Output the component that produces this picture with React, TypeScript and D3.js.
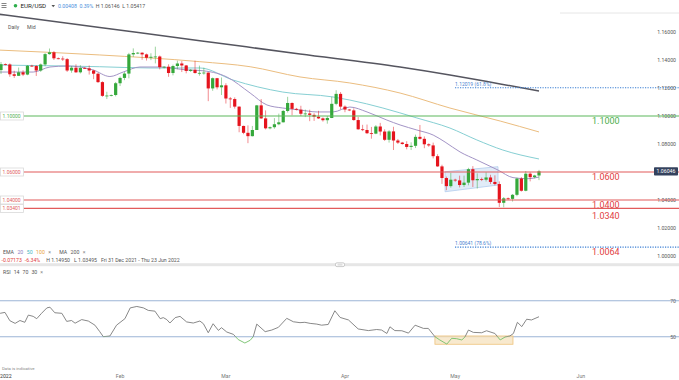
import React from 'react';
import * as d3 from 'd3';

// ---------- DATA ----------
// Daily candles (Sun–Fri sessions), [date, open, high, low, close]
const candles: [string, number, number, number, number][] = [
  ['2021-12-31', 1.1328, 1.1386, 1.1300, 1.1370],
  ['2022-01-02', 1.1370, 1.1376, 1.1362, 1.1368],
  ['2022-01-03', 1.1368, 1.1376, 1.1280, 1.1298],
  ['2022-01-04', 1.1298, 1.1323, 1.1272, 1.1287],
  ['2022-01-05', 1.1287, 1.1346, 1.1286, 1.1312],
  ['2022-01-06', 1.1312, 1.1327, 1.1285, 1.1296],
  ['2022-01-07', 1.1296, 1.1364, 1.1291, 1.1359],
  ['2022-01-09', 1.1359, 1.1366, 1.1352, 1.1357],
  ['2022-01-10', 1.1357, 1.1363, 1.1286, 1.1325],
  ['2022-01-11', 1.1325, 1.1375, 1.1315, 1.1368],
  ['2022-01-12', 1.1368, 1.1449, 1.1356, 1.1442],
  ['2022-01-13', 1.1442, 1.1482, 1.1438, 1.1455],
  ['2022-01-14', 1.1455, 1.1464, 1.1400, 1.1412],
  ['2022-01-16', 1.1412, 1.1418, 1.1405, 1.1410],
  ['2022-01-17', 1.1410, 1.1427, 1.1393, 1.1406],
  ['2022-01-18', 1.1406, 1.1414, 1.1315, 1.1325],
  ['2022-01-19', 1.1325, 1.1357, 1.1309, 1.1345],
  ['2022-01-20', 1.1345, 1.1369, 1.1308, 1.1312],
  ['2022-01-21', 1.1312, 1.1363, 1.1304, 1.1343],
  ['2022-01-23', 1.1343, 1.1350, 1.1336, 1.1340],
  ['2022-01-24', 1.1340, 1.1361, 1.1296, 1.1325],
  ['2022-01-25', 1.1325, 1.1330, 1.1263, 1.1302],
  ['2022-01-26', 1.1302, 1.1310, 1.1236, 1.1242],
  ['2022-01-27', 1.1242, 1.1248, 1.1137, 1.1144],
  ['2022-01-28', 1.1144, 1.1173, 1.1121, 1.1146],
  ['2022-01-30', 1.1146, 1.1154, 1.1140, 1.1150],
  ['2022-01-31', 1.1150, 1.1243, 1.1140, 1.1234],
  ['2022-02-01', 1.1234, 1.1282, 1.1214, 1.1272],
  ['2022-02-02', 1.1272, 1.1314, 1.1256, 1.1303],
  ['2022-02-03', 1.1303, 1.1451, 1.1269, 1.1440],
  ['2022-02-04', 1.1440, 1.1483, 1.1422, 1.1450],
  ['2022-02-06', 1.1450, 1.1457, 1.1442, 1.1452],
  ['2022-02-07', 1.1452, 1.1455, 1.1402, 1.1440],
  ['2022-02-08', 1.1440, 1.1446, 1.1396, 1.1416],
  ['2022-02-09', 1.1416, 1.1448, 1.1399, 1.1423],
  ['2022-02-10', 1.1423, 1.1495, 1.1376, 1.1425],
  ['2022-02-11', 1.1425, 1.1432, 1.1333, 1.1349],
  ['2022-02-13', 1.1349, 1.1356, 1.1340, 1.1352],
  ['2022-02-14', 1.1352, 1.1369, 1.1280, 1.1307],
  ['2022-02-15', 1.1307, 1.1367, 1.1290, 1.1357],
  ['2022-02-16', 1.1357, 1.1395, 1.1334, 1.1375],
  ['2022-02-17', 1.1375, 1.1392, 1.1314, 1.1361],
  ['2022-02-18', 1.1361, 1.1364, 1.1305, 1.1322],
  ['2022-02-20', 1.1322, 1.1335, 1.1315, 1.1330],
  ['2022-02-21', 1.1330, 1.1395, 1.1303, 1.1307],
  ['2022-02-22', 1.1307, 1.1360, 1.1288, 1.1308],
  ['2022-02-23', 1.1308, 1.1345, 1.1295, 1.1310],
  ['2022-02-24', 1.1310, 1.1312, 1.1106, 1.1197],
  ['2022-02-25', 1.1197, 1.1275, 1.1180, 1.1270],
  ['2022-02-27', 1.1270, 1.1272, 1.1190, 1.1205],
  ['2022-02-28', 1.1205, 1.1275, 1.1150, 1.1219],
  ['2022-03-01', 1.1219, 1.1234, 1.1089, 1.1125],
  ['2022-03-02', 1.1125, 1.1136, 1.1058, 1.1121],
  ['2022-03-03', 1.1121, 1.1133, 1.1053, 1.1067],
  ['2022-03-04', 1.1067, 1.1068, 1.0884, 1.0929],
  ['2022-03-06', 1.0929, 1.0931, 1.0870, 1.0880],
  ['2022-03-07', 1.0880, 1.0933, 1.0806, 1.0856],
  ['2022-03-08', 1.0856, 1.0929, 1.0854, 1.0900],
  ['2022-03-09', 1.0900, 1.1079, 1.0900, 1.1076],
  ['2022-03-10', 1.1076, 1.1121, 1.0979, 1.0983],
  ['2022-03-11', 1.0983, 1.1040, 1.0904, 1.0912],
  ['2022-03-13', 1.0912, 1.0925, 1.0905, 1.0920],
  ['2022-03-14', 1.0920, 1.0985, 1.0909, 1.0941],
  ['2022-03-15', 1.0941, 1.1017, 1.0934, 1.0955],
  ['2022-03-16', 1.0955, 1.1043, 1.0954, 1.1036],
  ['2022-03-17', 1.1036, 1.1137, 1.1025, 1.1093],
  ['2022-03-18', 1.1093, 1.1097, 1.1005, 1.1051],
  ['2022-03-20', 1.1051, 1.1058, 1.1040, 1.1045],
  ['2022-03-21', 1.1045, 1.1073, 1.1000, 1.1016],
  ['2022-03-22', 1.1016, 1.1046, 1.0992, 1.1018],
  ['2022-03-23', 1.1018, 1.1045, 1.0963, 1.1008],
  ['2022-03-24', 1.1008, 1.1020, 1.0965, 1.0995],
  ['2022-03-25', 1.0995, 1.1037, 1.0979, 1.0983],
  ['2022-03-27', 1.0983, 1.0990, 1.0960, 1.0970],
  ['2022-03-28', 1.0970, 1.1000, 1.0945, 1.0986],
  ['2022-03-29', 1.0986, 1.1137, 1.0985, 1.1087],
  ['2022-03-30', 1.1087, 1.1184, 1.1077, 1.1158],
  ['2022-03-31', 1.1158, 1.1171, 1.1048, 1.1067],
  ['2022-04-01', 1.1067, 1.1076, 1.1027, 1.1046],
  ['2022-04-03', 1.1046, 1.1050, 1.1035, 1.1040],
  ['2022-04-04', 1.1040, 1.1055, 1.0966, 1.0971],
  ['2022-04-05', 1.0971, 1.0993, 1.0902, 1.0905],
  ['2022-04-06', 1.0905, 1.0937, 1.0892, 1.0900],
  ['2022-04-07', 1.0900, 1.0939, 1.0871, 1.0877],
  ['2022-04-08', 1.0877, 1.0922, 1.0838, 1.0874],
  ['2022-04-10', 1.0874, 1.0935, 1.0870, 1.0925],
  ['2022-04-11', 1.0925, 1.0951, 1.0861, 1.0889],
  ['2022-04-12', 1.0889, 1.0905, 1.0822, 1.0830],
  ['2022-04-13', 1.0830, 1.0899, 1.0810, 1.0890],
  ['2022-04-14', 1.0890, 1.0923, 1.0757, 1.0825],
  ['2022-04-15', 1.0825, 1.0836, 1.0800, 1.0810],
  ['2022-04-17', 1.0810, 1.0815, 1.0795, 1.0800],
  ['2022-04-18', 1.0800, 1.0820, 1.0762, 1.0779],
  ['2022-04-19', 1.0779, 1.0812, 1.0757, 1.0787],
  ['2022-04-20', 1.0787, 1.0867, 1.0771, 1.0851],
  ['2022-04-21', 1.0851, 1.0936, 1.0831, 1.0837],
  ['2022-04-22', 1.0837, 1.0854, 1.0770, 1.0798],
  ['2022-04-24', 1.0798, 1.0805, 1.0780, 1.0790],
  ['2022-04-25', 1.0790, 1.0810, 1.0697, 1.0713],
  ['2022-04-26', 1.0713, 1.0727, 1.0637, 1.0640],
  ['2022-04-27', 1.0640, 1.0652, 1.0515, 1.0557],
  ['2022-04-28', 1.0557, 1.0567, 1.0470, 1.0499],
  ['2022-04-29', 1.0499, 1.0594, 1.0488, 1.0545],
  ['2022-05-01', 1.0545, 1.0552, 1.0530, 1.0540],
  ['2022-05-02', 1.0540, 1.0574, 1.0490, 1.0507],
  ['2022-05-03', 1.0507, 1.0574, 1.0493, 1.0524],
  ['2022-05-04', 1.0524, 1.0630, 1.0505, 1.0620],
  ['2022-05-05', 1.0620, 1.0642, 1.0493, 1.0541],
  ['2022-05-06', 1.0541, 1.0590, 1.0482, 1.0550],
  ['2022-05-08', 1.0550, 1.0560, 1.0535, 1.0545],
  ['2022-05-09', 1.0545, 1.0598, 1.0532, 1.0561],
  ['2022-05-10', 1.0561, 1.0580, 1.0514, 1.0529],
  ['2022-05-11', 1.0529, 1.0576, 1.0505, 1.0514],
  ['2022-05-12', 1.0514, 1.0533, 1.0350, 1.0380],
  ['2022-05-13', 1.0380, 1.0421, 1.0348, 1.0412],
  ['2022-05-15', 1.0412, 1.0418, 1.0400, 1.0408],
  ['2022-05-16', 1.0408, 1.0443, 1.0389, 1.0437],
  ['2022-05-17', 1.0437, 1.0559, 1.0427, 1.0553],
  ['2022-05-18', 1.0553, 1.0564, 1.0460, 1.0466],
  ['2022-05-19', 1.0466, 1.0607, 1.0462, 1.0588],
  ['2022-05-20', 1.0588, 1.0598, 1.0533, 1.0563],
  ['2022-05-22', 1.0563, 1.0580, 1.0555, 1.0575],
  ['2022-05-23', 1.0575, 1.0615, 1.0542, 1.0605],
];

// Moving averages: [session index, price]
const ema20: [number, number][] = [
  [-0.5, 1.1314], [7.3, 1.1314], [11.1, 1.1350], [15, 1.1357], [20.9, 1.1329], [24.7, 1.1282],
  [27.7, 1.1314], [31.5, 1.1350], [36.1, 1.1350], [42.2, 1.1329], [45.1, 1.1325], [51.2, 1.1279],
  [56.5, 1.1164], [60.3, 1.1079], [63.9, 1.1057], [67.8, 1.1043], [71.7, 1.1029], [75.3, 1.1029],
  [79.1, 1.1064], [83, 1.1029], [87.5, 1.0971], [90.5, 1.0936], [94.3, 1.0900], [98, 1.0864],
  [100.7, 1.0814], [104.1, 1.0743], [107.9, 1.0686], [112.7, 1.0614], [116.1, 1.0560],
  [119.3, 1.0552], [122, 1.0564],
];
const ema50: [number, number][] = [
  [-0.5, 1.1364], [15, 1.1357], [22.4, 1.1352], [33.8, 1.1343], [45.1, 1.1343], [52.6, 1.1257],
  [63.9, 1.1171], [75.3, 1.1136], [79.1, 1.1114], [86.6, 1.1057], [94.3, 1.0986], [101.8, 1.0914],
  [107.9, 1.0829], [113.8, 1.0757], [122, 1.0693],
];
const ema100: [number, number][] = [
  [-0.5, 1.1471], [22.4, 1.1436], [45.1, 1.1388], [56.5, 1.1352], [67.8, 1.1279], [79.1, 1.1236],
  [90.5, 1.1164], [101.8, 1.1057], [113.2, 1.0964], [122, 1.0886],
];
const ma200: [number, number][] = [
  [-0.5, 1.1727], [22.4, 1.1632], [45.1, 1.1538], [67.8, 1.1443], [90.5, 1.1350],
  [101.8, 1.1293], [113.2, 1.1229], [122, 1.1179],
];

// RSI(14): [session index, value]
const rsi: [number, number][] = [
  [-0.2, 63], [0.9, 63.5], [2, 58.9], [3.2, 57.4], [4.3, 59], [5.4, 58], [6.2, 62], [7.3, 61.3],
  [8.1, 60], [9.2, 63], [10.4, 66], [11.1, 66.4], [12.2, 63.3], [13.8, 63], [14.9, 58.5], [16, 59],
  [16.8, 57.5], [18.3, 59.5], [19.8, 58.7], [21.3, 56.4], [22.4, 52.8], [23.2, 50], [24.7, 50.4],
  [26.2, 56.4], [28.1, 60], [29.3, 66], [30.8, 66.8], [32.3, 66], [33.4, 64.6], [34.9, 64.2],
  [36.1, 60], [36.8, 60.6], [37.6, 59.5], [38.3, 57.6], [39.5, 60.6], [40.6, 61.3], [42.1, 58.2],
  [43.6, 57.6], [45.1, 58.7], [45.9, 57.2], [47, 52.2], [48.1, 57.2], [49.3, 53.5], [50, 55],
  [51.2, 52.6], [52.7, 51.3], [53.8, 48.4], [55.3, 46.5], [56.5, 48], [57.2, 50], [58, 57],
  [59.9, 52.8], [61.4, 53.7], [62.9, 55.2], [64.8, 60.2], [66.3, 58.3], [67.8, 57.8], [68.9, 58],
  [70.1, 57.4], [71.6, 57], [72.7, 56.4], [74.2, 56.8], [75.7, 64.4], [76.9, 60.7], [78.8, 59.3],
  [81, 54.3], [83.3, 53.4], [85.2, 54], [86.3, 53.7], [87.5, 51.8], [88.2, 55.5], [89.3, 53.4],
  [90.9, 53.3], [92.4, 52], [93.9, 56.4], [95.8, 54.6], [96.9, 54.6], [98.4, 50], [99.5, 48.2],
  [101.1, 45.9], [102.2, 49.1], [103.3, 48.9], [104.5, 48.2], [105.2, 49.8], [106, 53.7],
  [107.1, 52.4], [109, 52.2], [110.1, 53.3], [112, 51.8], [113.2, 48.2], [114.3, 49.8],
  [115.4, 50.4], [116.2, 51.8], [117.1, 58], [118.1, 55.6], [119.2, 59.7], [120.3, 59.3], [122, 61.1],
];

// Month labels: [label, session index]
const monthTicks: [string, number][] = [
  ['2022', 1.1], ['Feb', 27], ['Mar', 51], ['Apr', 78], ['May', 103], ['Jun', 131.5],
];
const priceTicks = [1.16, 1.14, 1.12, 1.10, 1.08, 1.04, 1.02, 1.0];
const rsiLevels = [70, 50];

// Support / resistance levels
const greenLevels = [1.1];
const redLevels = [1.06, 1.04, 1.034];
const leftLabels: [number, string, string][] = [
  [1.1, '1.10000', 'g'], [1.06, '1.06000', 'r'], [1.04, '1.04000', 'r'], [1.034, '1.03401', 'r'],
];
const bigLabels: [number, string, string][] = [
  [1.1, '1.1000', 'g'], [1.06, '1.0600', 'r'], [1.04, '1.0400', 'r'], [1.034, '1.0340', 'r'], [1.0064, '1.0064', 'r'],
];
const fibLevels: [number, string][] = [[1.12019, '1.12019 (61.8%)'], [1.00641, '1.00641 (78.6%)']];
const lastPrice = 1.06046;

// Flag (rectangle) pattern: [index, price] corners
const flagBox: [number, number][] = [[100.7, 1.0602], [112.7, 1.0638], [112.7, 1.0507], [100.7, 1.0459]];
// RSI highlight box: [startIdx, endIdx, top, bottom]
const rsiBox = [98.4, 116.1, 50.4, 45.8];

// ---------- STYLE ----------
const W = 679, H = 380;
const UP = '#35a83b', DOWN = '#e5141d';
const GREEN_LVL = '#5cb85c', RED_LVL = '#e25a5a';
const FONT = 'Roboto, "Liberation Sans", Arial, sans-serif';
const BIG_FS = 9;

export default function App() {
  const x = d3.scaleLinear().domain([0, 122]).range([1, 539]);
  const y = d3.scaleLinear().domain([1.0, 1.16]).range([256, 32]);
  const yr = d3.scaleLinear().domain([50, 70]).range([336.7, 300.7]);

  const maLine = d3.line<[number, number]>().x(d => x(d[0])).y(d => y(d[1])).curve(d3.curveMonotoneX);
  const rsiLine = d3.line<[number, number]>().x(d => x(d[0])).y(d => yr(d[1]));

  const bodyW = 3.2;
  const y50 = yr(50);

  // big level labels hang just under their line; push down if they would collide
  const bigPos: number[] = [];
  bigLabels.forEach(([p], i) => {
    let b = y(p) + 7.9;
    if (i > 0 && b < bigPos[i - 1] + 11.2) b = bigPos[i - 1] + 11.2;
    bigPos.push(b);
  });

  return (
    <svg width={W} height={H} style={{ position: 'absolute', left: 0, top: 0, background: '#fff' }}
      fontFamily={FONT}>
      <defs>
        <clipPath id="mainClip"><rect x={0} y={13} width={W} height={250} /></clipPath>
        <clipPath id="rsiAbove"><rect x={0} y={267} width={W} height={y50 - 267} /></clipPath>
        <clipPath id="rsiBelow"><rect x={0} y={y50} width={W} height={360 - y50} /></clipPath>
      </defs>

      {/* header */}
      <g fill="#666">
        {[3.5, 5.5, 7.5].map((yy, i) => <rect key={i} x={1.5} y={yy - 0.4} width={5} height={0.8} />)}
      </g>
      <circle cx={15.5} cy={5.8} r={1.8} fill="#2eae4c" />
      <text x={20.5} y={8} fontSize={6.2} fill="#222">EUR/USD</text>
      <path d="M51.5,5 L55,5 L53.25,7.2 Z" fill="#555" />
      <text x={58} y={8} fontSize={5.2} fill="#4a8fdc">0.00408<tspan dx={2.5}>0.39%</tspan>
        <tspan dx={2.5} fill="#555">H 1.06146</tspan><tspan dx={2.5} fill="#555">L 1.05417</tspan></text>
      <line x1={560} x2={W} y1={13} y2={13} stroke="#e6e6e6" />
      <text x={8} y={28.5} fontSize={5.2} fill="#555">Daily</text>
      <text x={27} y={28.5} fontSize={5.2} fill="#555">Mid</text>

      {/* price axis labels */}
      {priceTicks.map(p => (
        <text key={p} x={676} y={y(p) + 1.8} fontSize={5.2} fill="#555" textAnchor="end">{p.toFixed(5)}</text>
      ))}

      <g clipPath="url(#mainClip)">
        {/* flag pattern box */}
        <polygon points={flagBox.map(d => `${x(d[0])},${y(d[1])}`).join(' ')}
          fill="#c9dcf2" fillOpacity={0.55} stroke="#b3cdee" strokeWidth={0.8} />

        {/* moving averages */}
        <path d={maLine(ma200) || ''} fill="none" stroke="#55555f" strokeWidth={1.5} />
        <path d={maLine(ema100) || ''} fill="none" stroke="#ebbd7f" strokeWidth={1} />
        <path d={maLine(ema50) || ''} fill="none" stroke="#86cfd3" strokeWidth={1} />
        <path d={maLine(ema20) || ''} fill="none" stroke="#a394c6" strokeWidth={1} />

        {/* candles */}
        {candles.map((c, i) => {
          const [, o, h, l, cl] = c;
          const col = cl >= o ? UP : DOWN;
          const top = y(Math.max(o, cl)), bot = y(Math.min(o, cl));
          return (
            <g key={i}>
              <line x1={x(i)} x2={x(i)} y1={y(h)} y2={y(l)} stroke={col} strokeOpacity={0.55} strokeWidth={0.9} />
              <rect x={x(i) - bodyW / 2} y={top} width={bodyW} height={Math.max(0.8, bot - top)} fill={col} />
            </g>
          );
        })}
      </g>

      {/* horizontal levels */}
      {greenLevels.map(p => <line key={p} x1={23.5} x2={W} y1={y(p)} y2={y(p)} stroke={GREEN_LVL} strokeWidth={1.1} />)}
      {redLevels.map(p => <line key={p} x1={23.5} x2={W} y1={y(p)} y2={y(p)} stroke={RED_LVL} strokeWidth={1.1} />)}
      {fibLevels.map(([p, lab]) => (
        <g key={p}>
          <line x1={455} x2={W} y1={y(p)} y2={y(p)} stroke="#3b7fd4" strokeWidth={1.2} strokeDasharray="1.2,1.3" />
          <text x={455} y={y(p) - 2} fontSize={5} fill="#4a82d0">{lab}</text>
        </g>
      ))}
      {leftLabels.map(([p, lab, c]) => (
        <g key={lab}>
          <rect x={0.5} y={y(p) - 4} width={23} height={8} fill="#fff" stroke="#d9d9d9" strokeWidth={0.8} />
          <text x={2.5} y={y(p) + 1.8} fontSize={5} fill={c === 'g' ? '#55b055' : '#e06060'}>{lab}</text>
        </g>
      ))}
      {bigLabels.map(([, lab, c], i) => (
        <text key={lab} x={592} y={bigPos[i]} fontSize={BIG_FS} fill={c === 'g' ? '#4cae4c' : '#e2403f'}>{lab}</text>
      ))}

      {/* last price tag */}
      <rect x={654} y={y(lastPrice) - 4.2} width={24} height={8.4} fill="#34425e" rx={0.8} />
      <text x={666} y={y(lastPrice) + 1.9} fontSize={5.2} fill="#fff" textAnchor="middle">{lastPrice.toFixed(5)}</text>

      {/* indicator legend */}
      <text x={3} y={253.5} fontSize={5.2} fill="#555">EMA<tspan dx={3.5} fill="#8e7cc0">20</tspan>
        <tspan dx={3.5} fill="#45b8c2">50</tspan><tspan dx={3.5} fill="#e9a23b">100</tspan>
        <tspan dx={3.5} fill="#888">×</tspan><tspan dx={8} fill="#555">MA</tspan>
        <tspan dx={3.5}>200</tspan><tspan dx={3.5} fill="#888">×</tspan></text>
      <text x={1.5} y={262} fontSize={5.2} fill="#555"><tspan fill="#e04040">-0.07173</tspan>
        <tspan dx={3} fill="#e04040">-6.34%</tspan><tspan dx={6}>H 1.14950</tspan>
        <tspan dx={4}>L 1.03495</tspan><tspan dx={4}>Fri 31 Dec 2021 - Thu 23 Jun 2022</tspan></text>

      {/* panel separator */}
      <rect x={0} y={263.2} width={W} height={3} fill="#e6e6e6" />
      <rect x={335.5} y={262.8} width={9} height={3.8} rx={1.5} fill="#fff" stroke="#aaa" strokeWidth={0.6} />
      <line x1={337.5} x2={342.5} y1={264.2} y2={264.2} stroke="#aaa" strokeWidth={0.4} />
      <line x1={337.5} x2={342.5} y1={265.2} y2={265.2} stroke="#aaa" strokeWidth={0.4} />

      {/* RSI panel */}
      <text x={3} y={274} fontSize={5.2} fill="#555">RSI<tspan dx={3}>14</tspan><tspan dx={3}>70</tspan>
        <tspan dx={3}>30</tspan><tspan dx={3} fill="#888">×</tspan></text>
      {rsiLevels.map(v => (
        <g key={v}>
          <line x1={0} x2={W} y1={yr(v)} y2={yr(v)} stroke="#9db4d6" strokeWidth={1.1} />
          <text x={676} y={yr(v) + 1.8} fontSize={5.2} fill="#666" textAnchor="end">{v}</text>
        </g>
      ))}
      <rect x={x(rsiBox[0])} y={yr(rsiBox[2])} width={x(rsiBox[1]) - x(rsiBox[0])}
        height={yr(rsiBox[3]) - yr(rsiBox[2])} fill="#f6e2bd" fillOpacity={0.75} stroke="#efc27a" strokeWidth={0.8} />
      <path d={rsiLine(rsi) || ''} fill="none" stroke="#7a7a7a" strokeWidth={0.9} clipPath="url(#rsiAbove)" />
      <path d={rsiLine(rsi) || ''} fill="none" stroke="#74c06a" strokeWidth={0.9} clipPath="url(#rsiBelow)" />

      {/* footer / time axis */}
      <text x={2} y={369.5} fontSize={4.3} fill="#888">Data is indicative</text>
      {monthTicks.map(([lab, idx], i) => (
        <text key={lab} x={x(idx)} y={378} fontSize={5.2} fill={i === 0 ? '#333' : '#777'} textAnchor="middle">{lab}</text>
      ))}
    </svg>
  );
}
